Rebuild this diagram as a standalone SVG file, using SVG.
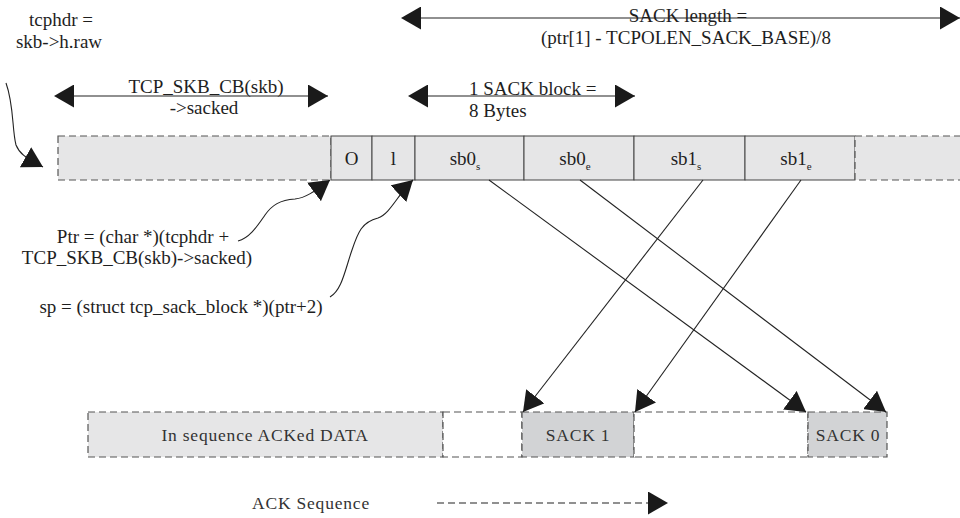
<svg xmlns="http://www.w3.org/2000/svg" width="960" height="518" viewBox="0 0 960 518">
<style>
.t{font-family:"Liberation Serif","Times New Roman",serif;font-size:19px;fill:#1e1e1e}
.b{font-family:"Liberation Serif","Times New Roman",serif;font-size:17.5px;fill:#333;letter-spacing:0.8px}
.sub{font-size:11px}
.cell{fill:#e6e6e7;stroke:#444;stroke-width:1}
.dash{stroke:#555;stroke-width:1.2;stroke-dasharray:7 4}
.ln{fill:none;stroke:#222;stroke-width:1.1}
</style>
<defs>
<marker id="ah" markerUnits="userSpaceOnUse" viewBox="0 0 20 23" refX="20" refY="11.5" markerWidth="20" markerHeight="23" orient="auto">
<path d="M0,0 L20,11.5 L0,23 z" fill="#1a1a1a"/>
</marker>
<marker id="ahs" markerUnits="userSpaceOnUse" viewBox="0 0 20 23" refX="0" refY="11.5" markerWidth="20" markerHeight="23" orient="auto-start-reverse">
<path d="M0,0 L20,11.5 L0,23 z" fill="#1a1a1a"/>
</marker>
</defs>
<rect width="960" height="518" fill="#fff"/>

<g id="labels">
<text class="t" x="61" y="26" text-anchor="middle">tcphdr =</text>
<text class="t" x="59" y="48" text-anchor="middle">skb-&gt;h.raw</text>
<text class="t" x="206" y="93" text-anchor="middle">TCP_SKB_CB(skb)</text>
<text class="t" x="204" y="114" text-anchor="middle">-&gt;sacked</text>
<text class="t" x="688" y="22" text-anchor="middle">SACK length =</text>
<text class="t" x="686" y="44" text-anchor="middle">(ptr[1] - TCPOLEN_SACK_BASE)/8</text>
<text class="t" x="469" y="95">1 SACK block =</text>
<text class="t" x="469" y="117">8 Bytes</text>
<text class="t" x="143" y="243" text-anchor="middle">Ptr = (char *)(tcphdr +</text>
<text class="t" x="137" y="264" text-anchor="middle">TCP_SKB_CB(skb)-&gt;sacked)</text>
<text class="t" x="181" y="313" text-anchor="middle">sp = (struct tcp_sack_block *)(ptr+2)</text>
<text class="b" x="311" y="509" text-anchor="middle">ACK Sequence</text>
</g>

<g id="top-row">
<g id="pre"><rect x="58" y="136" width="273" height="44" fill="#e6e6e7" class="dash"/></g>
<g id="cell-O"><rect x="331" y="136" width="41" height="44" class="cell"/><text class="t" x="351.5" y="165" text-anchor="middle">O</text></g>
<g id="cell-l"><rect x="372" y="136" width="43" height="44" class="cell"/><text class="t" x="393.5" y="165" text-anchor="middle">l</text></g>
<g id="cell-sb0s"><rect x="415" y="136" width="109" height="44" class="cell"/><text class="t" x="465" y="165" text-anchor="middle">sb0<tspan class="sub" dy="5">s</tspan></text></g>
<g id="cell-sb0e"><rect x="524" y="136" width="110" height="44" class="cell"/><text class="t" x="575" y="165" text-anchor="middle">sb0<tspan class="sub" dy="5">e</tspan></text></g>
<g id="cell-sb1s"><rect x="634" y="136" width="111" height="44" class="cell"/><text class="t" x="686" y="165" text-anchor="middle">sb1<tspan class="sub" dy="5">s</tspan></text></g>
<g id="cell-sb1e"><rect x="745" y="136" width="110" height="44" class="cell"/><text class="t" x="796" y="165" text-anchor="middle">sb1<tspan class="sub" dy="5">e</tspan></text></g>
<g id="post"><rect x="855" y="136" width="110" height="44" fill="#e6e6e7" class="dash"/></g>
</g>

<g id="bottom-row">
<g id="acked"><rect x="88" y="412" width="355" height="45" fill="#e6e6e7" class="dash"/><text class="b" x="265" y="441" text-anchor="middle">In sequence ACKed DATA</text></g>
<g id="gap1"><rect x="443" y="412" width="79" height="45" fill="#fff" class="dash"/></g>
<g id="sack1"><rect x="522" y="412" width="112" height="45" fill="#d2d3d5" class="dash"/><text class="b" x="578" y="441" text-anchor="middle">SACK 1</text></g>
<g id="gap2"><rect x="634" y="412" width="174" height="45" fill="#fff" class="dash"/></g>
<g id="sack0"><rect x="808" y="412" width="79" height="45" fill="#d2d3d5" class="dash"/><text class="b" x="848" y="441" text-anchor="middle">SACK 0</text></g>
</g>

<g id="connectors">
<line class="ln" x1="74" y1="96" x2="328" y2="96" marker-start="url(#ahs)" marker-end="url(#ah)"/>
<line class="ln" x1="421" y1="18" x2="960" y2="18" marker-start="url(#ahs)" marker-end="url(#ah)"/>
<line class="ln" x1="428" y1="96" x2="635" y2="96" marker-start="url(#ahs)" marker-end="url(#ah)"/>
<path class="ln" d="M6,83 C14,105 12,130 16,145 C20,155 27,158 43,167" marker-end="url(#ah)"/>
<path class="ln" d="M238,241 C250,238 258,225 265,215 C272,205 280,200 295,199 C305,198 314,192 330,180" marker-end="url(#ah)"/>
<path class="ln" d="M330,297 C342,290 345,270 352,250 C358,232 362,222 378,218 C390,214 398,194 413,180" marker-end="url(#ah)"/>
<line class="ln" x1="489" y1="180" x2="806" y2="412" marker-end="url(#ah)"/>
<line class="ln" x1="580" y1="180" x2="886" y2="412" marker-end="url(#ah)"/>
<line class="ln" x1="703" y1="180" x2="523" y2="412" marker-end="url(#ah)"/>
<line class="ln" x1="801" y1="180" x2="635" y2="412" marker-end="url(#ah)"/>
<line class="ln" x1="437" y1="503" x2="668" y2="503" stroke-dasharray="7 4" marker-end="url(#ah)"/>
</g>
</svg>
